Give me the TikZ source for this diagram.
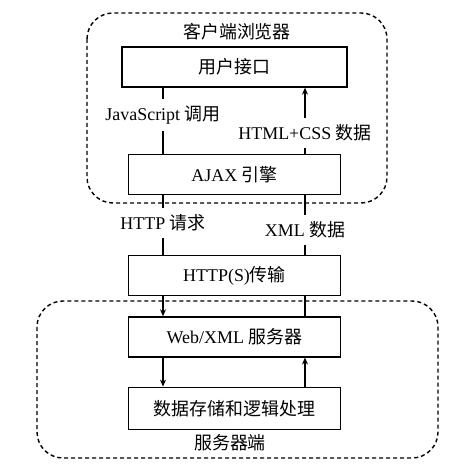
\documentclass[tikz,border=0pt]{standalone}
\usepackage{fontspec}
\setmainfont{Liberation Serif}
\newfontfamily\cjk{Noto Sans CJK SC}
\usetikzlibrary{positioning,arrows.meta}

\begin{document}
\begin{tikzpicture}[x=1bp, y=1bp, line width=1.2bp, >={Stealth[length=7bp,width=6bp]},
        box/.style={draw, line width=1.3bp, rectangle, minimum width=212bp, minimum height=40bp, font=\fontsize{18}{21}\selectfont},
        lbl/.style={font=\fontsize{18}{21}\selectfont, inner sep=6bp},
        region/.style={draw, line width=1.4bp, dash pattern=on 4bp off 3bp, rounded corners=26bp}]
        \useasboundingbox (0,0) rectangle (468,-474);

        % Client browser
        \draw[region] (87,-13) rectangle (387,-203);
        \node[lbl] (client) at (237,-32) {\cjk 客户端浏览器};
        \node[box, minimum width=225bp] (ui) at (234.5,-67) {\cjk 用户接口};
        \node[box, below=66bp of ui] (ajax) {AJAX {\cjk 引擎}};

        % Transport
        \node[box, below=60bp of ajax] (http) {HTTP(S){\cjk 传输}};

        % Server side
        \draw[region] (37,-301) rectangle (438,-458);
        \node[box, below=20bp of http] (web) {Web/XML {\cjk 服务器}};
        \node[box, below=29bp of web, minimum height=42bp] (data) {\cjk 数据存储和逻辑处理};
        \node[lbl] (server) at (230,-443) {\cjk 服务器端};

        % Labels on the links
        \node[lbl] (js) at (163,-115) {JavaScript {\cjk 调用}};
        \node[lbl] (htmlcss) at (305,-133) {HTML+CSS {\cjk 数据}};
        \node[lbl] (req) at (163,-223) {HTTP {\cjk 请求}};
        \node[lbl] (xml) at (305,-230) {XML {\cjk 数据}};

        % Links
        \draw (ui.south -| js) -- (js);
        \draw (js) -- (ajax.north -| js);
        \draw (ajax.north -| htmlcss) -- (htmlcss);
        \draw[->] (htmlcss) -- (ui.south -| htmlcss);
        \draw (ajax.south -| req) -- (req);
        \draw (req) -- (http.north -| req);
        \draw (ajax.south -| xml) -- (xml);
        \draw (xml) -- (http.north -| xml);
        \draw[->] (http.south -| req) -- (web.north -| req);
        \draw (http.south -| xml) -- (web.north -| xml);
        \draw[->] (web.south -| req) -- (data.north -| req);
        \draw[->] (data.north -| xml) -- (web.south -| xml);
    \end{tikzpicture}
\end{document}
